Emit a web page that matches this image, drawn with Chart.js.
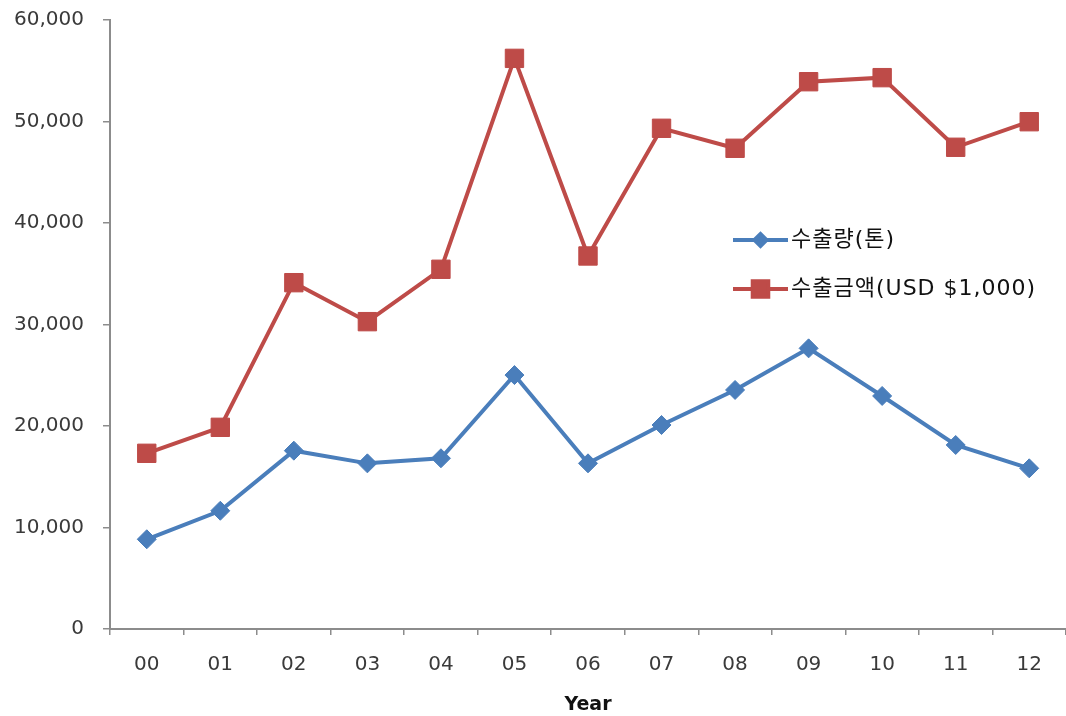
<!DOCTYPE html>
<html>
<head>
<meta charset="utf-8">
<script src="https://cdn.jsdelivr.net/npm/chart.js@4/dist/chart.umd.min.js"></script>
<style>
  html, body { margin: 0; padding: 0; background: #fff; }
  #wrap { width: 1066px; height: 716px; position: relative; }
</style>
</head>
<body>
<div id="wrap"><canvas id="c"></canvas></div>
<script>
// Export volume (tons) and export value (USD 1,000) by year, 2000-2012
const years = ['00', '01', '02', '03', '04', '05', '06', '07', '08', '09', '10', '11', '12'];
const volumeTons = [8840, 11650, 17570, 16320, 16820, 25020, 16320, 20100, 23550, 27650, 22960, 18130, 15830];
const valueUsdThousand = [17310, 19870, 34120, 30280, 35440, 56220, 36750, 49330, 47360, 53920, 54320, 47460, 49980];
const seriesNames = ['수출량(톤)', '수출금액(USD $1,000)'];
const yMax = 60000;
const yStep = 10000;
const xTitle = 'Year';

const BLUE = '#4a7ebb';
const RED = '#be4b48';

// Legend drawn inside the plot area, to the right of the middle
const insideLegend = {
  id: 'insideLegend',
  afterDraw(chart, args, opts) {
    const ctx = chart.ctx;
    chart.data.datasets.forEach((ds, i) => {
      const y = opts.y + i * opts.rowGap;
      const x0 = opts.x;
      ctx.save();
      ctx.strokeStyle = ds.borderColor;
      ctx.lineWidth = 4;
      ctx.beginPath();
      ctx.moveTo(x0, y);
      ctx.lineTo(x0 + opts.lineLen, y);
      ctx.stroke();
      ctx.fillStyle = ds.pointBackgroundColor;
      ctx.strokeStyle = ds.pointBorderColor;
      Chart.helpers.drawPoint(ctx, {
        pointStyle: ds.pointStyle,
        radius: opts.markerRadius[i],
        borderWidth: 1,
        rotation: 0
      }, x0 + opts.lineLen / 2, y);
      ctx.fillStyle = '#111';
      ctx.font = opts.font;
      ctx.letterSpacing = '1px';
      ctx.textBaseline = 'middle';
      ctx.textAlign = 'left';
      ctx.fillText(ds.label, x0 + opts.lineLen + 3, y);
      ctx.restore();
    });
  }
};

new Chart(document.getElementById('c'), {
  type: 'line',
  data: {
    labels: years,
    datasets: [
      {
        label: seriesNames[0],
        data: volumeTons,
        borderColor: BLUE,
        backgroundColor: BLUE,
        pointBackgroundColor: BLUE,
        pointBorderColor: BLUE,
        borderWidth: 4,
        pointStyle: 'rectRot',
        pointRadius: 9.5,
        pointBorderWidth: 1,
        tension: 0
      },
      {
        label: seriesNames[1],
        data: valueUsdThousand,
        borderColor: RED,
        backgroundColor: RED,
        pointBackgroundColor: RED,
        pointBorderColor: RED,
        borderWidth: 4,
        pointStyle: 'rect',
        pointRadius: 13,
        pointBorderWidth: 1,
        tension: 0
      }
    ]
  },
  options: {
    responsive: true,
    maintainAspectRatio: false,
    animation: false,
    layout: { autoPadding: false, padding: { top: 20, right: 0, bottom: 0, left: 0 } },
    plugins: {
      legend: { display: false },
      tooltip: { enabled: false },
      insideLegend: {
        x: 733,
        y: 240,
        rowGap: 49,
        lineLen: 55,
        markerRadius: [6, 11],
        font: '22px "DejaVu Sans", "Noto Sans CJK KR", sans-serif'
      }
    },
    scales: {
      x: {
        offset: true,
        grid: {
          offset: true,
          drawOnChartArea: false,
          drawTicks: true,
          tickLength: 6,
          color: '#8c8c8c',
          lineWidth: 1.5
        },
        border: { display: true, color: '#8c8c8c', width: 2 },
        ticks: {
          color: '#3a3a3a',
          padding: 18,
          maxRotation: 0,
          font: { family: '"DejaVu Sans", sans-serif', size: 20 }
        },
        title: {
          display: true,
          text: xTitle,
          color: '#111',
          padding: { top: 0, bottom: 0 },
          font: { family: '"DejaVu Sans", sans-serif', size: 19, weight: 'bold' }
        },
        afterFit(scale) {
          scale.height = 87;
          scale.paddingLeft = 0;
          scale.paddingRight = 0;
        }
      },
      y: {
        min: 0,
        max: yMax,
        grid: {
          drawOnChartArea: false,
          drawTicks: true,
          tickLength: 7,
          color: '#8c8c8c',
          lineWidth: 1.5
        },
        border: { display: true, color: '#8c8c8c', width: 2 },
        ticks: {
          stepSize: yStep,
          color: '#3a3a3a',
          padding: 19,
          font: { family: '"DejaVu Sans", sans-serif', size: 20 },
          callback: (v) => Number(v).toLocaleString('en-US')
        },
        afterFit(scale) {
          scale.width = 110;
          scale.paddingTop = 0;
          scale.paddingBottom = 0;
        }
      }
    }
  },
  plugins: [insideLegend]
});
</script>
</body>
</html>
